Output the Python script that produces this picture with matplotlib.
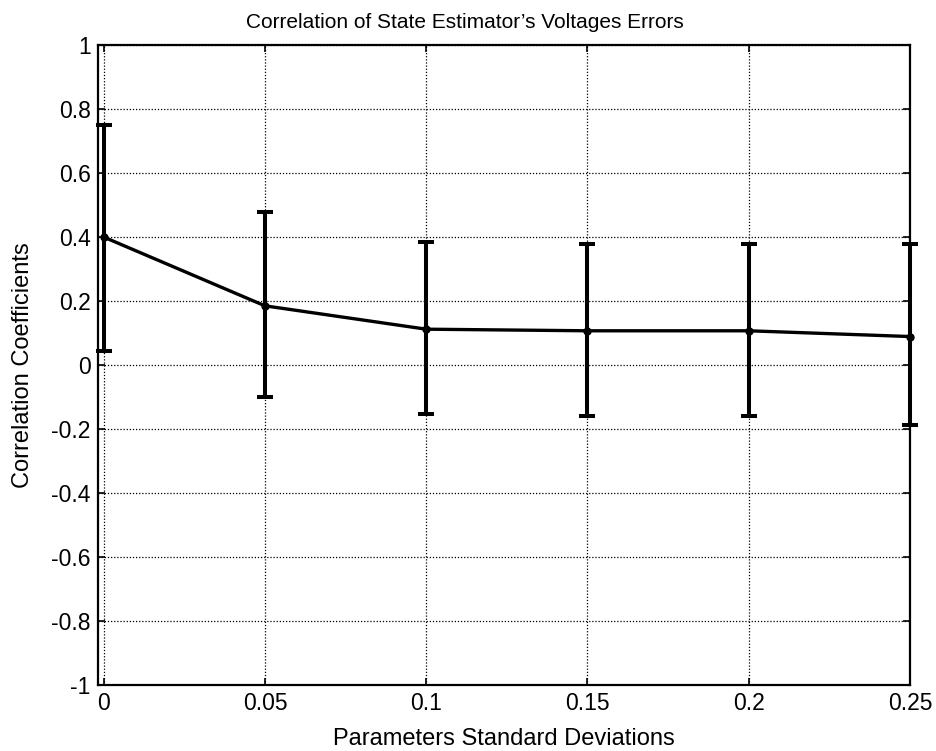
import matplotlib
matplotlib.use("Agg")
from matplotlib import pyplot as plt

# values
std_devs = [0.0, 0.05, 0.10, 0.15, 0.20, 0.25]
corr_mean = [0.400, 0.185, 0.112, 0.107, 0.107, 0.089]
corr_upper = [0.750, 0.478, 0.383, 0.378, 0.378, 0.377]
corr_lower = [0.044, -0.099, -0.153, -0.158, -0.158, -0.187]

x_ticks = [0, 0.05, 0.1, 0.15, 0.2, 0.25]
x_tick_labels = ["0", "0.05", "0.1", "0.15", "0.2", "0.25"]
y_ticks = [-1, -0.8, -0.6, -0.4, -0.2, 0, 0.2, 0.4, 0.6, 0.8, 1]
y_tick_labels = ["-1", "-0.8", "-0.6", "-0.4", "-0.2", "0", "0.2", "0.4", "0.6", "0.8", "1"]

plt.rcParams["font.family"] = ["Liberation Sans", "DejaVu Sans"]

fig = plt.figure(figsize=(9.37, 7.51), dpi=100)
ax = fig.add_axes([0.1049, 0.0879, 0.9712 - 0.1049, 0.940 - 0.0879])

err_low = [m - lo for m, lo in zip(corr_mean, corr_lower)]
err_high = [hi - m for m, hi in zip(corr_mean, corr_upper)]
ax.errorbar(
    std_devs,
    corr_mean,
    yerr=[err_low, err_high],
    color="black",
    linewidth=2.4,
    elinewidth=2.9,
    capsize=5.5,
    capthick=2.9,
    marker="o",
    markersize=5,
    clip_on=False,
    zorder=3,
)

ax.set_xlim(-0.00167, 0.25)
ax.set_ylim(-1, 1)
ax.set_xticks(x_ticks)
ax.set_xticklabels(x_tick_labels)
ax.set_yticks(y_ticks)
ax.set_yticklabels(y_tick_labels)
ax.tick_params(direction="in", length=5, width=1.2, labelsize=16.5, color="black")
ax.tick_params(axis="x", pad=5)
ax.tick_params(axis="y", pad=5.5)
ax.tick_params(top=True, right=True)

ax.grid(True, color="black", linestyle=(0, (1, 1.5)), linewidth=0.9)
for spine in ax.spines.values():
    spine.set_linewidth(1.6)
    spine.set_color("black")

ax.set_title("Correlation of State Estimator\u2019s Voltages Errors", fontsize=15, pad=12, x=0.452)
ax.set_xlabel("Parameters Standard Deviations", fontsize=17)
ax.set_ylabel("Correlation Coefficients", fontsize=17)
ax.xaxis.set_label_coords(0.5, -0.067)
ax.yaxis.set_label_coords(-0.079, 0.5)

fig.savefig("out.png", dpi=100)
